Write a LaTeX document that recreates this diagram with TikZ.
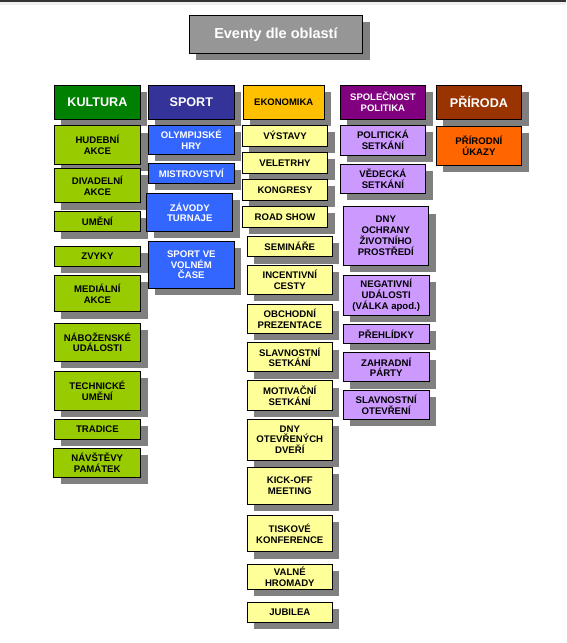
\documentclass[tikz,border=0pt]{standalone}
\usepackage{fontspec}
\setmainfont{Liberation Sans}
\usetikzlibrary{shadows}
\definecolor{shadowgray}{HTML}{808080}
\definecolor{titlegray}{HTML}{969696}
\definecolor{kultdark}{HTML}{008000}
\definecolor{kultlight}{HTML}{99CC00}
\definecolor{sportdark}{HTML}{333399}
\definecolor{sportlight}{HTML}{3366FF}
\definecolor{ekondark}{HTML}{FFC000}
\definecolor{ekonlight}{HTML}{FFFF99}
\definecolor{spoldark}{HTML}{800080}
\definecolor{spollight}{HTML}{CC99FF}
\definecolor{prirdark}{HTML}{993300}
\definecolor{prirlight}{HTML}{FF6600}
\tikzset{
  box/.style={draw=black, line width=0.8pt, align=center, inner sep=1pt,
    font=\fontsize{9.6}{10.8}\selectfont\bfseries,
    drop shadow={shadow xshift=7pt, shadow yshift=-7pt, opacity=1, fill=shadowgray}},
  head/.style={box, minimum width=86pt, minimum height=34.3pt, text=white,
    font=\fontsize{12.6}{14}\selectfont\bfseries},
  smallhead/.style={head, font=\fontsize{9.5}{11}\selectfont\bfseries},
  kult/.style={box, fill=kultlight, minimum width=86.7pt},
  sport/.style={box, fill=sportlight, text=white, minimum width=86pt},
  ekon/.style={box, fill=ekonlight, minimum width=85.2pt},
  spol/.style={box, fill=spollight, minimum width=85.5pt},
  prir/.style={box, fill=prirlight, minimum width=85.7pt}
}
\begin{document}
\begin{tikzpicture}[x=1pt,y=-1pt]
\useasboundingbox (0,0) rectangle (566,643);
\fill[black!6] (0,2) rectangle (566,5); \draw[line width=1.3pt, black!80] (0,1)--(566,1);
\node[box, fill=titlegray, text=white, minimum width=173.7pt, minimum height=38.3pt,
  font=\fontsize{14.5}{16}\selectfont\bfseries] (title) at (275.9,34.2) {Eventy dle oblastí};
\node[head, fill=kultdark] (kultura) at (97.4,102.2) {KULTURA};
\node[head, fill=sportdark] (sport) at (191.3,102.2) {SPORT};
\node[smallhead, fill=ekondark, text=black, minimum width=81pt] (ekonomika) at (283.8,102.2) {EKONOMIKA};
\node[smallhead, fill=spoldark, minimum width=85.7pt] (spolecnost) at (382.9,102.2) {SPOLEČNOST\\POLITIKA};
\node[head, fill=prirdark, minimum width=85.7pt] (priroda) at (478.9,102.2) {PŘÍRODA};
\foreach \nm/\cx/\cy/\h/\txt in {hudebni/97.4/144.9/38.3/{HUDEBNÍ\\AKCE}, divadelni/97.4/185.5/34.4/{DIVADELNÍ\\AKCE},
  umeni/97.4/221.4/20.7/{UMĚNÍ}, zvyky/97.4/256/20/{ZVYKY}, medialni/97.4/293.4/36.7/{MEDIÁLNÍ\\AKCE},
  nabozenske/97.4/342.2/37.7/{NÁBOŽENSKÉ\\UDÁLOSTI}, technicke/97.4/390.5/39/{TECHNICKÉ\\UMĚNÍ},
  tradice/97.4/429.3/20/{TRADICE}, navstevy/97.2/462.8/29/{NÁVŠTĚVY\\PAMÁTEK}}
  \node[kult, minimum height=\h pt] (\nm) at (\cx,\cy) {\txt};
\foreach \nm/\cx/\cy/\h/\txt in {olympijske/191.3/139.7/28.7/{OLYMPIJSKÉ\\HRY}, mistrovstvi/191.3/173.3/20/{MISTROVSTVÍ},
  zavody/189.8/212.2/37.7/{ZÁVODY\\TURNAJE}, volnycas/191.3/264.8/47/{SPORT VE\\VOLNÉM\\ČASE}}
  \node[sport, minimum height=\h pt] (\nm) at (\cx,\cy) {\txt};
\foreach \nm/\cx/\cy/\h/\txt in {vystavy/285/135.7/20.7/{VÝSTAVY}, veletrhy/285/162.7/20.7/{VELETRHY},
  kongresy/285/189.7/20.7/{KONGRESY}, roadshow/285/216.7/20.7/{ROAD SHOW}, seminare/289.8/246.4/20.7/{SEMINÁŘE},
  incentivni/289.8/279.7/29.3/{INCENTIVNÍ\\CESTY}, obchodni/289.8/318.8/29/{OBCHODNÍ\\PREZENTACE},
  slavsetkani/289.8/357.2/29/{SLAVNOSTNÍ\\SETKÁNÍ}, motivacni/289.8/395.4/29.3/{MOTIVAČNÍ\\SETKÁNÍ},
  otevrenedvere/289.8/439.5/41/{DNY\\OTEVŘENÝCH\\DVEŘÍ}, kickoff/289.8/485.7/36.7/{KICK-OFF\\MEETING},
  tiskove/289.8/533.4/36.7/{TISKOVÉ\\KONFERENCE}, valne/289.8/576.7/24.7/{VALNÉ\\HROMADY},
  jubilea/289.8/612.3/20/{JUBILEA}}
  \node[ekon, minimum height=\h pt] (\nm) at (\cx,\cy) {\txt};
\foreach \nm/\cx/\cy/\h/\txt in {politicka/382.9/140/30/{POLITICKÁ\\SETKÁNÍ}, vedecka/382.9/178.7/29.3/{VĚDECKÁ\\SETKÁNÍ},
  ochrana/385.8/235.9/58.3/{DNY\\OCHRANY\\ŽIVOTNÍHO\\PROSTŘEDÍ}, negativni/386.2/295/40/{NEGATIVNÍ\\UDÁLOSTI\\(VÁLKA apod.)},
  prehlidky/386.2/333.8/19/{PŘEHLÍDKY}, zahradni/386.2/367.2/29/{ZAHRADNÍ\\PÁRTY},
  otevreni/386.2/404.7/29.3/{SLAVNOSTNÍ\\OTEVŘENÍ}}
  \node[spol, minimum height=\h pt] (\nm) at (\cx,\cy) {\txt};
\node[prir, minimum height=39pt] (prirodni) at (478.9,145.5) {PŘÍRODNÍ\\ÚKAZY};
\end{tikzpicture}
\end{document}
